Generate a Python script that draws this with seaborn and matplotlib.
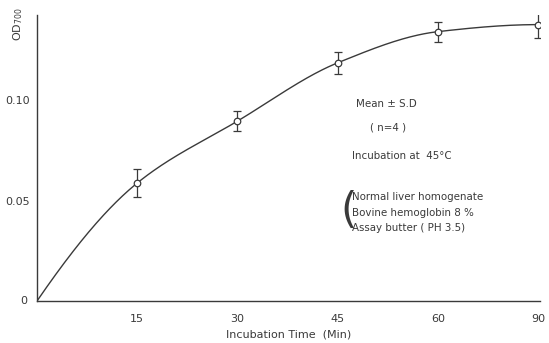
import numpy as np
import pandas as pd
import matplotlib
matplotlib.use("Agg")
import matplotlib.pyplot as plt
import seaborn as sns

# Data
time_labels = ["0", "15", "30", "45", "60", "90"]
od_mean = [0.0, 0.0587, 0.0895, 0.1185, 0.1340, 0.1375]
od_sd = [0.0, 0.0072, 0.0050, 0.0055, 0.0050, 0.0065]
y_ticks = [0.0, 0.05, 0.10]
y_tick_labels = ["0", "0.05", "0.10"]

sns.set_theme(style="white")
plt.rcParams["font.family"] = ["DejaVu Sans"]

col = "#3a3a3a"
pos = np.arange(len(time_labels), dtype=float)

# shape-preserving (monotone) cubic for the smooth drawn curve through the points
def pchip(x, y, xs):
    x = np.asarray(x, float); y = np.asarray(y, float)
    h = np.diff(x); d = np.diff(y) / h
    n = len(x)
    m = np.zeros(n)
    for i in range(1, n - 1):
        if d[i - 1] * d[i] > 0:
            w1 = 2 * h[i] + h[i - 1]; w2 = h[i] + 2 * h[i - 1]
            m[i] = (w1 + w2) / (w1 / d[i - 1] + w2 / d[i])
    m[0] = ((2 * h[0] + h[1]) * d[0] - h[0] * d[1]) / (h[0] + h[1])
    m[-1] = ((2 * h[-1] + h[-2]) * d[-1] - h[-1] * d[-2]) / (h[-1] + h[-2])
    if m[-1] * d[-1] <= 0:
        m[-1] = 0.0
    out = np.empty_like(xs)
    for k, xv in enumerate(xs):
        i = int(min(max(np.searchsorted(x, xv, side="right") - 1, 0), n - 2))
        t = (xv - x[i]) / h[i]
        h00 = 2 * t**3 - 3 * t**2 + 1; h10 = t**3 - 2 * t**2 + t
        h01 = -2 * t**3 + 3 * t**2; h11 = t**3 - t**2
        out[k] = h00 * y[i] + h10 * h[i] * m[i] + h01 * y[i + 1] + h11 * h[i] * m[i + 1]
    return out

xs = np.linspace(pos[0], pos[-1], 400)
curve = pd.DataFrame({"x": xs, "y": pchip(pos, od_mean, xs)})
pts = pd.DataFrame({"x": pos[1:], "y": od_mean[1:], "sd": od_sd[1:]})

fig = plt.figure(figsize=(5.49, 3.43), dpi=100)
ax = fig.add_axes([0.0674, 0.1224, 0.9166, 0.834])

sns.lineplot(data=curve, x="x", y="y", ax=ax, color=col, linewidth=1.0)
ax.errorbar(pts["x"], pts["y"], yerr=pts["sd"], fmt="none", ecolor=col,
            elinewidth=0.9, capsize=3, capthick=0.9, zorder=3)
sns.scatterplot(data=pts, x="x", y="y", ax=ax, marker="o", s=22,
                facecolor="white", edgecolor=col, linewidth=0.9, zorder=4)

ax.set_xlim(0, 5.02)
ax.set_ylim(0, 0.1423)

for s in ["top", "right"]:
    ax.spines[s].set_visible(False)
for s in ["left", "bottom"]:
    ax.spines[s].set_color(col)
    ax.spines[s].set_linewidth(1.0)

ax.set_xticks(pos[1:])
ax.set_xticklabels(time_labels[1:], color=col, fontsize=8)
ax.tick_params(axis="x", direction="in", length=4, width=0.9, color=col, pad=9)
ax.set_yticks(y_ticks[1:])
ax.set_yticklabels(y_tick_labels[1:], color=col, fontsize=8)
ax.tick_params(axis="y", direction="out", length=3, width=0.9, color=col, pad=2)
ax.text(-0.02, 0.0, "0", transform=ax.get_yaxis_transform(), ha="right",
        va="center", fontsize=8, color=col)

ax.set_xlabel("Incubation Time  (Min)", fontsize=8, color=col, labelpad=4)
ax.set_ylabel("")
fig.text(0.033, 0.93, r"OD$_{700}$", rotation=90, ha="center", va="center",
         fontsize=8, color=col)

tk = dict(fontsize=7.4, color=col, transform=fig.transFigure, va="center")
fig.text(356 / 549, 1 - 104 / 343, "Mean ± S.D", **tk)
fig.text(370 / 549, 1 - 128 / 343, "( n=4 )", **tk)
fig.text(352 / 549, 1 - 156 / 343, "Incubation at  45°C", **tk)
fig.text(352 / 549, 1 - 197 / 343, "Normal liver homogenate", **tk)
fig.text(352 / 549, 1 - 213 / 343, "Bovine hemoglobin 8 %", **tk)
fig.text(352 / 549, 1 - 228 / 343, "Assay butter ( PH 3.5)", **tk)
fig.text(348 / 549, 1 - 211 / 343, "(", fontsize=30, color=col,
         transform=fig.transFigure, va="center", ha="center")

fig.savefig("out.png", dpi=100, facecolor="white")
